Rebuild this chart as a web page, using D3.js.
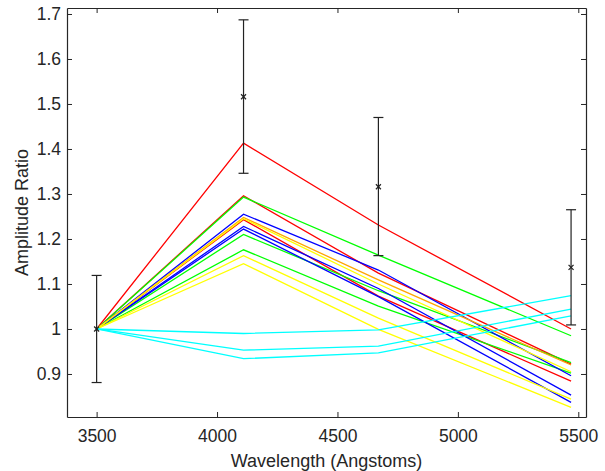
<!DOCTYPE html>
<html><head><meta charset="utf-8">
<script src="https://cdn.jsdelivr.net/npm/d3@7"></script>
<style>body{margin:0;background:#fff}svg{display:block}text{font-family:"Liberation Sans",Arial,sans-serif;fill:#262626}</style>
</head><body><svg id="c" width="605" height="471"></svg>
<script>
const wavelengths = [3500, 4110, 4670, 5470];
const xTicks = [3500, 4000, 4500, 5000, 5500];
const xTickLabels = ["3500", "4000", "4500", "5000", "5500"];
const yTicks = [0.9, 1, 1.1, 1.2, 1.3, 1.4, 1.5, 1.6, 1.7];
const yTickLabels = ["0.9", "1", "1.1", "1.2", "1.3", "1.4", "1.5", "1.6", "1.7"];
const seriesColors = ["#ff0000","#ff0000","#ff0000","#00ff00","#00ff00","#00ff00","#0000ff","#0000ff","#0000ff","#ffa500","#ffff00","#ffff00","#ffff00","#00ffff","#00ffff","#00ffff"];
const seriesValues = [
  [1, 1.413, 1.231, 1.000],
  [1, 1.296, 1.124, 0.922],
  [1, 1.243, 1.073, 0.884],
  [1, 1.293, 1.164, 0.985],
  [1, 1.210, 1.085, 0.925],
  [1, 1.176, 1.051, 0.902],
  [1, 1.255, 1.131, 0.896],
  [1, 1.228, 1.090, 0.853],
  [1, 1.222, 1.072, 0.837],
  [1, 1.248, 1.109, 0.920],
  [1, 1.245, 1.100, 0.905],
  [1, 1.163, 1.024, 0.844],
  [1, 1.145, 0.999, 0.826],
  [1, 0.990, 0.998, 1.074],
  [1, 0.953, 0.962, 1.044],
  [1, 0.934, 0.947, 1.029]
];
const obsValues = [1.0, 1.516, 1.316, 1.137];
const obsLow = [0.881, 1.346, 1.163, 1.009];
const obsHigh = [1.119, 1.687, 1.470, 1.265];

const L = 67, R = 586, T = 8, B = 417;
const x = d3.scaleLinear().domain([3377, 5532]).range([L, R]);
const y = d3.scaleLinear().domain([0.8044, 1.7133]).range([B, T]);
const svg = d3.select("#c");

const g = svg.append("g");
const line = d3.line().x((d,i)=>x(wavelengths[i])).y(d=>y(d));
seriesValues.forEach((s,k)=>{
  g.append("path").attr("d", line(s)).attr("fill","none").attr("stroke", seriesColors[k]).attr("stroke-width",1.3);
});

// error bars
const eb = svg.append("g").attr("stroke","#222").attr("stroke-width",1.2);
wavelengths.forEach((w,i)=>{
  const cx = x(w);
  eb.append("line").attr("x1",cx).attr("x2",cx).attr("y1",y(obsLow[i])).attr("y2",y(obsHigh[i]));
  [obsLow[i], obsHigh[i]].forEach(v=>eb.append("line").attr("x1",cx-5).attr("x2",cx+5).attr("y1",y(v)).attr("y2",y(v)));
  const cy = y(obsValues[i]);
  eb.append("line").attr("x1",cx-2.5).attr("x2",cx+2.5).attr("y1",cy-2.5).attr("y2",cy+2.5);
  eb.append("line").attr("x1",cx-2.5).attr("x2",cx+2.5).attr("y1",cy+2.5).attr("y2",cy-2.5);
});

// axes
const xb = svg.append("g").attr("transform",`translate(0,${B})`).call(d3.axisBottom(x).tickValues(xTicks).tickSizeInner(-5).tickSizeOuter(0).tickPadding(13).tickFormat((d,i)=>xTickLabels[i]));
const xt = svg.append("g").attr("transform",`translate(0,${T})`).call(d3.axisTop(x).tickValues(xTicks).tickSizeInner(-5).tickSizeOuter(0).tickFormat(""));
const yl = svg.append("g").attr("transform",`translate(${L},0)`).call(d3.axisLeft(y).tickValues(yTicks).tickSizeInner(-5).tickSizeOuter(0).tickPadding(6).tickFormat((d,i)=>yTickLabels[i]));
const yr = svg.append("g").attr("transform",`translate(${R},0)`).call(d3.axisRight(y).tickValues(yTicks).tickSizeInner(-5).tickSizeOuter(0).tickFormat(""));
[xb,xt,yl,yr].forEach(a=>{
  a.selectAll("path").attr("stroke","#262626").attr("stroke-width",1.2);
  a.selectAll("line").attr("stroke","#262626");
  a.selectAll("text").attr("font-size",17.5).attr("fill","#262626").style("font-family","'Liberation Sans',Arial,sans-serif");
});

svg.append("text").attr("x",(L+R)/2).attr("y",467).attr("text-anchor","middle").attr("font-size",18).text("Wavelength (Angstoms)");
svg.append("text").attr("transform",`translate(28,${(T+B)/2}) rotate(-90)`).attr("text-anchor","middle").attr("font-size",18).text("Amplitude Ratio");
</script></body></html>
